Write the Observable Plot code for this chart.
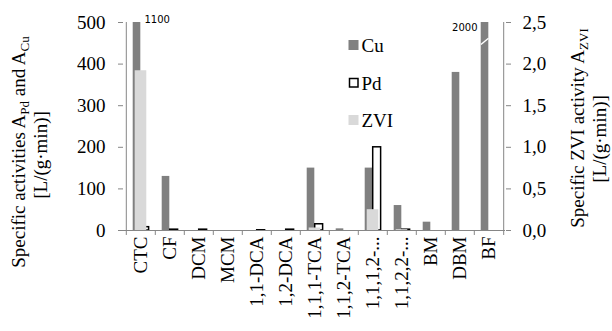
<!DOCTYPE html>
<html>
<head>
<meta charset="utf-8">
<script src="https://cdn.jsdelivr.net/npm/d3@7"></script>
<script src="https://cdn.jsdelivr.net/npm/@observablehq/plot@0.6"></script>
<style>
  html, body { margin: 0; padding: 0; background: #fff; }
  #chart { width: 612px; height: 331px; }
</style>
</head>
<body>
<div id="chart"></div>
<script>
const categories = ["CTC","CF","DCM","MCM","1,1-DCA","1,2-DCA","1,1,1-TCA","1,1,2-TCA","1,1,1,2-...","1,1,2,2-...","BM","DBM","BF"];
const cuValues  = [1100, 130, 0, 0, 0, 0, 150, 4, 150, 60, 20, 380, 2000];
const pdValues  = [8, 2, 2, 0, 0.5, 2, 15, 0, 200, 2, 0, 0, 0];
const zviValues = [1.92, 0, 0, 0, 0, 0, 0.03, 0, 0.25, 0.01, 0, 0, 0];
const yTicks  = [0, 100, 200, 300, 400, 500];
const y2Ticks = [0, 0.5, 1.0, 1.5, 2.0, 2.5];
const seriesNames = ["Cu", "Pd", "ZVI"];

const yMax = 500, y2Max = 2.5, k = yMax / y2Max;
const W = 612, H = 331, mL = 123, mR = 107, mT = 22, mB = 101;
const step = (W - mL - mR) / categories.length;
const axisGray = "#868686";
const serif = "'Liberation Serif', 'Times New Roman', serif";

const cu = categories.map((c, i) => ({cat: c, v: cuValues[i]}));
const pd = categories.map((c, i) => ({cat: c, v: pdValues[i]})).filter(d => d.v > 0);
const zvi = categories.map((c, i) => ({cat: c, v: zviValues[i]})).filter(d => d.v > 0);
const over = cu.filter(d => d.v > yMax);

const plot = Plot.plot({
  width: W, height: H,
  marginLeft: mL, marginRight: mR, marginTop: mT, marginBottom: mB,
  style: {fontFamily: serif, fontSize: "19px", color: "black", background: "white"},
  x: {type: "band", domain: categories, padding: 0},
  y: {domain: [0, yMax]},
  marks: [
    Plot.barY(cu, {x: "cat", y: d => Math.min(d.v, yMax), fill: "#808080", insetLeft: 6.7, insetRight: step - 14.7}),
    Plot.barY(pd, {x: "cat", y: "v", fill: "white", stroke: "black", strokeWidth: 1.5, insetLeft: 14.7, insetRight: step - 23}),
    Plot.barY(zvi, {x: "cat", y: d => d.v * k, fill: "#d9d9d9", insetLeft: 8.7, insetRight: 8.7}),
    Plot.ruleY([0], {stroke: axisGray}),
    Plot.ruleX([categories[0]], {x: d => d, dx: -step / 2, y1: 0, y2: yMax, stroke: axisGray}),
    Plot.ruleX([categories[categories.length - 1]], {x: d => d, dx: step / 2, y1: 0, y2: yMax, stroke: axisGray}),
    Plot.ruleX(categories, {x: d => d, dx: -step / 2, y1: 0, y2: -12, stroke: axisGray}),
    Plot.ruleX([categories[categories.length - 1]], {x: d => d, dx: step / 2, y1: 0, y2: -12, stroke: axisGray}),
    Plot.axisX({tickSize: 0, tickRotate: -90, tickPadding: 6, label: null, fill: "black"}),
    Plot.axisY({anchor: "left", ticks: yTicks, tickSize: 5, tickPadding: 13, stroke: axisGray, fill: "black", label: null}),
    Plot.axisY({anchor: "right", ticks: y2Ticks.map(v => v * k), tickFormat: d => (d / k).toFixed(1).replace(".", ","),
      tickSize: 5, tickPadding: 12, stroke: axisGray, fill: "black", label: null}),
    Plot.text(over.filter(d => d.cat === "CTC"), {x: "cat", y: yMax, text: d => String(d.v), textAnchor: "start", lineAnchor: "bottom",
      dx: 3.5, dy: 0, fontFamily: "'DejaVu Sans', Verdana, sans-serif", fontSize: 10, fill: "black"}),
    Plot.text(over.filter(d => d.cat === "BF"), {x: "cat", y: yMax, text: d => String(d.v), textAnchor: "end", lineAnchor: "bottom",
      dx: -11.5, dy: 8.5, fontFamily: "'DejaVu Sans', Verdana, sans-serif", fontSize: 10, fill: "black"})
  ]
});

document.getElementById("chart").appendChild(plot);

const svg = d3.select(plot);
const xs = plot.scale("x"), ys = plot.scale("y");

// break mark on clipped BF bar
const bx = xs.apply("BF");
svg.append("line")
  .attr("x1", bx + 6.9).attr("y1", ys.apply(446))
  .attr("x2", bx + 14.5).attr("y2", ys.apply(461))
  .attr("stroke", "white").attr("stroke-width", 1.5);

// legend
const legendStyles = [
  {fill: "#808080", stroke: "none"},
  {fill: "white", stroke: "black"},
  {fill: "#d9d9d9", stroke: "none"}
];
const lg = svg.append("g").style("font-family", serif).style("font-size", "19px").attr("text-anchor", "start");
seriesNames.forEach((name, i) => {
  const top = 40 + i * 37.5;
  const s = legendStyles[i];
  if (s.stroke === "none") {
    lg.append("rect").attr("x", 348.5).attr("y", top).attr("width", 10).attr("height", 10).attr("fill", s.fill);
  } else {
    lg.append("rect").attr("x", 349.5).attr("y", top + 1).attr("width", 8.5).attr("height", 8.5)
      .attr("fill", s.fill).attr("stroke", s.stroke).attr("stroke-width", 1.5);
  }
  lg.append("text").attr("x", 361.5).attr("y", top + 12).attr("fill", "black")
    .style("font-family", serif).style("font-size", "19px").text(name);
});

// axis titles
function title(x, y, parts) {
  const t = svg.append("text").attr("transform", `translate(${x},${y}) rotate(-90)`)
    .attr("text-anchor", "middle").style("font-family", serif).style("font-size", "19px").attr("fill", "black");
  let shifted = false;
  parts.forEach(p => {
    const ts = t.append("tspan").text(p.t);
    if (p.sub) { ts.attr("dy", 4).style("font-size", "13px"); shifted = true; }
    else if (shifted) { ts.attr("dy", -4); shifted = false; }
  });
}
title(25, 152, [{t: "Specific activities A"}, {t: "Pd", sub: true}, {t: " and A"}, {t: "Cu", sub: true}]);
title(47, 155, [{t: "[L/(g\u00B7min)]"}]);
title(584, 128, [{t: "Specific ZVI activity A"}, {t: "ZVI", sub: true}]);
title(606, 139, [{t: "[L/(g\u00B7min)]"}]);
</script>
</body>
</html>
